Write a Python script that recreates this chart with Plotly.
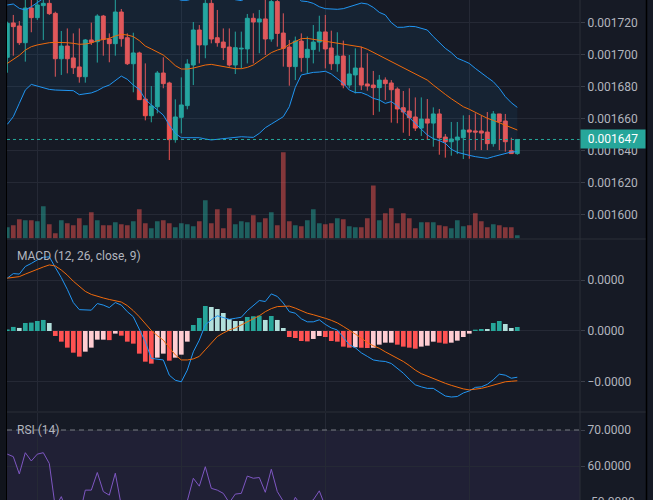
import numpy as np
import plotly.graph_objects as go

# ---------------- data (prices in millionths: 1698.2 -> 0.0016982) ----------------
PRICE_UNIT = 1e-6
OPEN = [1698.2, 1719.6, 1717.7, 1707.3, 1728.9, 1722.9, 1730.4, 1731.8, 1725.6, 1697.3,
        1705.2, 1697.8, 1692.2, 1686.1, 1709.0, 1707.9, 1723.9, 1709.6, 1706.7, 1726.4,
        1710.4, 1694.2, 1700.9, 1672.2, 1661.8, 1667.4, 1688.4, 1682.2, 1646.9, 1660.8,
        1668.1, 1693.4, 1715.2, 1705.9, 1731.8, 1710.4, 1707.7, 1704.6, 1693.4, 1703.4,
        1703.4, 1722.5, 1720.2, 1722.1, 1709.6, 1732.9, 1713.3, 1704.6, 1692.4, 1708.3,
        1698.0, 1703.0, 1707.7, 1714.0, 1704.0, 1694.2, 1699.0, 1680.9, 1687.2, 1691.5,
        1681.6, 1680.9, 1679.3, 1684.0, 1682.2, 1678.4, 1666.8, 1664.7, 1661.0, 1654.1,
        1659.7, 1657.2, 1662.9, 1648.5, 1645.6, 1646.7, 1648.1, 1652.9, 1652.3, 1652.3,
        1651.6, 1644.4, 1662.9, 1658.5, 1640.0, 1638.2]
HIGH = [1720.4, 1724.6, 1720.8, 1736.0, 1734.9, 1734.9, 1736.0, 1734.9, 1726.6, 1714.6,
        1716.2, 1713.1, 1716.2, 1709.6, 1719.8, 1725.0, 1724.6, 1713.1, 1734.9, 1728.3,
        1713.1, 1713.5, 1701.7, 1694.4, 1680.3, 1689.7, 1698.2, 1683.0, 1672.0, 1685.7,
        1697.0, 1720.2, 1718.3, 1734.9, 1734.9, 1727.7, 1716.2, 1716.2, 1714.2, 1714.2,
        1725.2, 1725.6, 1727.7, 1733.9, 1736.0, 1736.0, 1725.6, 1709.0, 1711.1, 1713.1,
        1711.1, 1718.3, 1724.1, 1724.6, 1714.8, 1713.8, 1708.6, 1699.6, 1703.8, 1704.8,
        1700.7, 1689.7, 1687.2, 1685.7, 1684.0, 1679.5, 1677.2, 1678.9, 1673.2, 1673.2,
        1672.2, 1667.0, 1666.0, 1650.4, 1657.9, 1657.9, 1662.0, 1662.2, 1663.3, 1661.6,
        1664.1, 1664.7, 1662.9, 1662.9, 1648.1, 1647.0]
LOW = [1688.6, 1699.2, 1705.9, 1695.5, 1713.8, 1721.4, 1709.0, 1724.6, 1686.1, 1687.2,
       1688.2, 1687.8, 1682.4, 1682.4, 1705.9, 1694.9, 1699.2, 1695.1, 1699.2, 1704.8,
       1693.4, 1676.4, 1671.6, 1658.9, 1657.7, 1663.3, 1678.9, 1634.2, 1645.0, 1650.8,
       1665.8, 1680.9, 1694.4, 1697.6, 1706.9, 1704.8, 1696.5, 1692.4, 1687.8, 1691.3,
       1694.4, 1694.4, 1700.7, 1699.6, 1707.9, 1704.8, 1692.4, 1680.5, 1684.0, 1689.2,
       1688.2, 1694.4, 1701.7, 1691.3, 1690.3, 1689.2, 1678.9, 1678.9, 1675.7, 1677.8,
       1677.4, 1662.2, 1664.3, 1671.6, 1657.5, 1657.1, 1651.2, 1649.2, 1652.3, 1649.2,
       1646.7, 1642.5, 1637.5, 1635.7, 1636.9, 1637.9, 1634.8, 1635.0, 1640.4, 1640.4,
       1640.4, 1642.5, 1640.4, 1639.4, 1638.2, 1637.5]
CLOSE = [1719.4, 1717.3, 1707.3, 1728.9, 1722.9, 1730.8, 1731.8, 1725.4, 1697.3, 1705.2,
         1697.3, 1691.7, 1686.1, 1709.0, 1707.5, 1723.9, 1709.4, 1706.7, 1726.4, 1709.8,
         1694.2, 1700.9, 1671.8, 1661.8, 1667.9, 1688.4, 1681.8, 1646.9, 1661.0, 1668.5,
         1694.0, 1715.2, 1705.9, 1731.8, 1709.6, 1707.3, 1704.2, 1693.4, 1704.2, 1703.8,
         1722.5, 1720.2, 1722.1, 1709.6, 1732.9, 1713.1, 1703.8, 1692.4, 1708.3, 1698.0,
         1703.2, 1707.7, 1714.0, 1703.4, 1694.2, 1699.0, 1680.9, 1687.8, 1691.5, 1680.9,
         1680.3, 1679.3, 1684.0, 1681.8, 1678.0, 1666.0, 1664.1, 1660.6, 1654.1, 1659.7,
         1657.2, 1662.9, 1648.1, 1645.6, 1647.3, 1648.5, 1652.9, 1651.6, 1651.6, 1651.0,
         1644.4, 1662.9, 1658.1, 1645.6, 1638.2, 1647.0]
VOLUME = [113, 133, 193, 183, 183, 173, 323, 143, 53, 183,
          153, 133, 203, 133, 263, 183, 133, 133, 163, 143,
          133, 173, 293, 153, 103, 173, 183, 153, 113, 153,
          143, 123, 173, 383, 153, 293, 103, 303, 143, 173,
          163, 233, 163, 203, 263, 133, 863, 173, 133, 123,
          183, 293, 153, 143, 153, 203, 193, 123, 113, 113,
          203, 530, 183, 253, 303, 153, 253, 203, 103, 163,
          163, 163, 133, 123, 103, 183, 123, 133, 253, 173,
          113, 143, 133, 113, 113, 33]
BB_UPPER = [1730.8, 1731.4, 1728.7, 1727.7, 1729.7, 1732.2, 1734.9, 1736.4, 1737.2, 1737.2,
            1737.0, 1736.4, 1737.6, 1737.6, 1738.3, 1739.7, 1738.9, 1739.1, 1738.9, 1738.5,
            1739.7, 1741.2, 1738.9, 1738.5, 1738.3, 1737.6, 1737.0, 1737.0, 1735.1, 1733.7,
            1733.7, 1734.9, 1737.0, 1739.5, 1741.0, 1739.3, 1737.6, 1736.0, 1734.1, 1733.5,
            1735.4, 1738.5, 1741.0, 1742.8, 1745.5, 1746.8, 1746.4, 1745.1, 1736.8, 1733.3,
            1732.9, 1731.8, 1729.7, 1728.5, 1728.1, 1728.1, 1728.5, 1729.7, 1731.0, 1732.0,
            1731.4, 1729.3, 1726.2, 1724.6, 1719.8, 1716.9, 1716.9, 1717.5, 1717.3, 1716.2,
            1715.2, 1711.1, 1707.3, 1703.8, 1701.1, 1697.6, 1696.1, 1694.4, 1691.3, 1688.2,
            1685.7, 1683.0, 1678.9, 1673.7, 1669.9, 1667.0]
BB_BASIS = [1694.4, 1696.9, 1699.4, 1702.7, 1704.8, 1705.9, 1706.7, 1707.3, 1707.5, 1707.5,
            1707.3, 1706.9, 1706.3, 1706.5, 1707.1, 1708.6, 1709.2, 1710.0, 1711.5, 1712.5,
            1712.1, 1711.1, 1708.6, 1705.2, 1703.4, 1701.5, 1699.6, 1696.5, 1693.0, 1690.9,
            1690.9, 1691.5, 1692.6, 1693.4, 1693.8, 1693.2, 1692.6, 1691.7, 1691.1, 1691.1,
            1691.9, 1693.4, 1695.9, 1698.6, 1701.1, 1702.7, 1703.8, 1706.3, 1708.2, 1709.8,
            1710.0, 1709.4, 1708.8, 1708.3, 1707.7, 1707.1, 1706.5, 1705.9, 1705.2, 1704.6,
            1703.2, 1701.3, 1699.2, 1697.1, 1695.1, 1693.2, 1691.3, 1689.5, 1687.6, 1685.7,
            1684.0, 1680.9, 1677.8, 1675.1, 1672.4, 1669.7, 1667.4, 1665.8, 1663.9, 1662.0,
            1660.2, 1658.9, 1657.5, 1656.0, 1654.3, 1652.9]
BB_LOWER = [1656.4, 1661.2, 1669.5, 1677.8, 1681.3, 1680.3, 1678.9, 1678.2, 1677.8, 1677.8,
            1677.6, 1677.4, 1674.9, 1675.3, 1676.0, 1677.4, 1679.5, 1680.9, 1684.0, 1686.5,
            1684.5, 1680.9, 1678.2, 1672.0, 1668.5, 1665.4, 1662.2, 1656.0, 1650.8, 1648.1,
            1648.1, 1648.1, 1648.1, 1647.3, 1646.7, 1647.1, 1647.5, 1647.5, 1648.1, 1648.7,
            1648.5, 1648.3, 1650.8, 1654.3, 1656.6, 1658.7, 1661.2, 1667.4, 1679.5, 1687.2,
            1688.2, 1688.8, 1689.0, 1689.5, 1687.8, 1685.1, 1682.0, 1677.8, 1676.2, 1676.2,
            1674.7, 1672.6, 1671.6, 1669.5, 1670.6, 1667.9, 1664.3, 1660.8, 1657.1, 1653.5,
            1649.8, 1647.5, 1646.3, 1644.6, 1640.9, 1639.0, 1637.9, 1637.1, 1636.3, 1635.7,
            1635.2, 1636.3, 1637.3, 1638.6, 1639.2, 1639.4]
MACD = [1.04, 1.13, 1.12, 1.27, 1.33, 1.40, 1.45, 1.46, 1.25, 1.05,
        0.82, 0.56, 0.42, 0.41, 0.41, 0.54, 0.51, 0.46, 0.56, 0.51,
        0.38, 0.28, 0.02, -0.21, -0.54, -0.55, -0.57, -0.87, -0.97, -1.00,
        -0.77, -0.41, -0.18, 0.12, 0.22, 0.30, 0.27, 0.23, 0.25, 0.27,
        0.40, 0.51, 0.60, 0.58, 0.73, 0.68, 0.55, 0.38, 0.35, 0.24,
        0.18, 0.18, 0.22, 0.13, 0.06, 0.02, -0.12, -0.27, -0.33, -0.43,
        -0.50, -0.57, -0.59, -0.60, -0.64, -0.74, -0.83, -0.95, -1.06, -1.10,
        -1.13, -1.13, -1.21, -1.28, -1.30, -1.29, -1.22, -1.18, -1.11, -1.10,
        -1.05, -0.96, -0.85, -0.87, -0.93, -0.91]
SIGNAL = [1.04, 1.05, 1.07, 1.12, 1.17, 1.22, 1.26, 1.30, 1.28, 1.20,
          1.10, 0.98, 0.87, 0.78, 0.72, 0.68, 0.65, 0.62, 0.60, 0.57,
          0.50, 0.40, 0.28, 0.14, 0.01, -0.09, -0.18, -0.33, -0.47, -0.57,
          -0.57, -0.55, -0.50, -0.37, -0.24, -0.11, -0.04, 0.02, 0.06, 0.12,
          0.17, 0.23, 0.30, 0.38, 0.44, 0.48, 0.49, 0.49, 0.45, 0.40,
          0.35, 0.32, 0.29, 0.25, 0.21, 0.16, 0.09, 0.02, -0.06, -0.14,
          -0.23, -0.29, -0.34, -0.41, -0.47, -0.54, -0.60, -0.68, -0.77, -0.84,
          -0.89, -0.93, -0.98, -1.03, -1.07, -1.11, -1.14, -1.16, -1.15, -1.13,
          -1.10, -1.07, -1.03, -1.00, -0.99, -0.98]
HIST = [0.03, 0.08, 0.06, 0.157, 0.165, 0.197, 0.217, 0.157, -0.098, -0.21,
        -0.328, -0.427, -0.505, -0.407, -0.328, -0.171, -0.171, -0.18, -0.052, -0.092,
        -0.21, -0.249, -0.446, -0.604, -0.643, -0.525, -0.446, -0.584, -0.525, -0.466,
        -0.21, 0.118, 0.256, 0.492, 0.472, 0.433, 0.354, 0.236, 0.197, 0.197,
        0.276, 0.29, 0.30, 0.217, 0.295, 0.217, 0.059, -0.118, -0.138, -0.197,
        -0.205, -0.157, -0.098, -0.118, -0.197, -0.21, -0.308, -0.328, -0.32, -0.33,
        -0.335, -0.33, -0.269, -0.23, -0.23, -0.269, -0.308, -0.328, -0.348, -0.308,
        -0.289, -0.21, -0.23, -0.249, -0.23, -0.19, -0.118, -0.052, 0.026, 0.039,
        0.039, 0.157, 0.197, 0.138, 0.059, 0.079]
RSI = [63.3, 62.6, 57.8, 63.7, 61.4, 63.3, 63.7, 60.7, 48.5, 51.5,
       47.0, 45.0, 46.0, 53.3, 53.3, 58.2, 52.9, 51.9, 58.0, 49.0,
       46.0, 47.5, 40.0, 36.0, 39.5, 47.0, 44.0, 35.0, 41.0, 45.5,
       50.3, 56.6, 54.4, 59.8, 53.8, 53.3, 52.4, 49.8, 52.2, 52.4,
       57.2, 56.6, 56.8, 52.7, 59.1, 52.9, 50.4, 47.5, 51.3, 49.0,
       49.8, 50.6, 53.1, 48.5, 44.5, 46.5, 40.5, 43.0, 45.0, 41.5,
       41.0, 40.5, 43.0, 42.0, 40.5, 37.5, 37.0, 36.0, 34.5, 37.5,
       36.5, 40.0, 34.5, 34.0, 35.0, 36.0, 39.0, 38.5, 38.5, 38.0,
       35.5, 45.0, 42.0, 38.0, 35.0, 41.5]
PRICE_TICKS = [0.00160, 0.00162, 0.00164, 0.00166, 0.00168, 0.00170, 0.00172]
MACD_TICKS = [-1e-6, 0.0, 1e-6]
MACD_TICK_TEXT = ["\u22120.0000", "0.0000", "0.0000"]
RSI_TICKS = [60, 70]
LAST_PRICE = 0.001647
X_GRID = [5, 29, 53, 77]

# ---------------- styling ----------------
BG = "#161a25"
GRID = "#252935"
BORDER = "#2a2e39"
TXT = "#b2b5be"
UP = "#26a69a"
DN = "#ef5350"
FONT = "Roboto"
W, H = 653, 500
L_PX, R_PX = 7, 580


def py(px):
    return 1 - px / H


def pxx(px):
    return (px - L_PX) / (R_PX - L_PX)


x = np.arange(len(CLOSE))
o = np.array(OPEN) * PRICE_UNIT
h = np.array(HIGH) * PRICE_UNIT
lo = np.array(LOW) * PRICE_UNIT
c = np.array(CLOSE) * PRICE_UNIT
up = np.array(BB_UPPER) * PRICE_UNIT
mid = np.array(BB_BASIS) * PRICE_UNIT
dn = np.array(BB_LOWER) * PRICE_UNIT
macd = np.array(MACD) * 1e-6
sig = np.array(SIGNAL) * 1e-6
hist = np.array(HIST) * 1e-6

vol_colors = ["rgba(38,166,154,0.5)" if cc >= oo else "rgba(239,83,80,0.5)" for oo, cc in zip(OPEN, CLOSE)]
hist_colors = []
prev = None
for v in HIST:
    if v >= 0:
        col = "#26a69a" if (prev is None or v > prev) else "#b2dfdb"
    else:
        col = "#ff5252" if (prev is not None and v < prev) else "#ffcdd2"
    hist_colors.append(col)
    prev = v

fig = go.Figure()
# volume (base axis y, drawn below price)
fig.add_trace(go.Bar(x=x, y=VOLUME, marker=dict(color=vol_colors, line=dict(width=0)),
                     xaxis="x", yaxis="y", hoverinfo="skip"))
# Bollinger fill
fig.add_trace(go.Scatter(x=x, y=up, mode="lines", line=dict(width=0), xaxis="x", yaxis="y2", hoverinfo="skip"))
fig.add_trace(go.Scatter(x=x, y=dn, mode="lines", line=dict(width=0), fill="tonexty",
                         fillcolor="rgba(33,150,243,0.07)", xaxis="x", yaxis="y2", hoverinfo="skip"))
# candles
fig.add_trace(go.Candlestick(x=x, open=o, high=h, low=lo, close=c, xaxis="x", yaxis="y2",
                             increasing=dict(line=dict(color=UP, width=1), fillcolor=UP),
                             decreasing=dict(line=dict(color=DN, width=1), fillcolor=DN),
                             whiskerwidth=0))
# Bollinger lines
fig.add_trace(go.Scatter(x=x, y=mid, mode="lines", line=dict(color="#f06a0c", width=1), xaxis="x", yaxis="y2"))
fig.add_trace(go.Scatter(x=x, y=up, mode="lines", line=dict(color="#2196f3", width=1), xaxis="x", yaxis="y2"))
fig.add_trace(go.Scatter(x=x, y=dn, mode="lines", line=dict(color="#2196f3", width=1), xaxis="x", yaxis="y2"))
# MACD
fig.add_trace(go.Bar(x=x, y=hist, marker=dict(color=hist_colors, line=dict(width=0)), xaxis="x2", yaxis="y3"))
fig.add_trace(go.Scatter(x=x, y=macd, mode="lines", line=dict(color="#2196f3", width=1), xaxis="x2", yaxis="y3"))
fig.add_trace(go.Scatter(x=x, y=sig, mode="lines", line=dict(color="#f06a0c", width=1), xaxis="x2", yaxis="y3"))
# RSI
fig.add_trace(go.Scatter(x=x, y=RSI, mode="lines", line=dict(color="#7e57c2", width=1), xaxis="x3", yaxis="y4"))

xr = [-0.05, 95.45]
xcommon = dict(range=xr, showticklabels=False, ticks="", tickvals=X_GRID, showgrid=True,
               gridcolor=GRID, gridwidth=1, zeroline=False, showline=False, rangeslider=dict(visible=False),
               domain=[0, 1])
ycommon = dict(side="right", showgrid=True, gridcolor=GRID, zeroline=False, showline=False,
               ticks="outside", ticklen=4, tickcolor="#3b3f4a",
               tickfont=dict(family=FONT, size=12, color=TXT))

fig.update_layout(
    width=W, height=H, margin=dict(l=L_PX, r=W - R_PX, t=0, b=0),
    paper_bgcolor=BG, plot_bgcolor=BG, showlegend=False, hovermode=False,
    bargap=0.22, boxgap=0.35, boxgroupgap=0.0,
    xaxis=dict(anchor="y", **xcommon),
    xaxis2=dict(anchor="y3", matches="x", **xcommon),
    xaxis3=dict(anchor="y4", matches="x", **xcommon),
    yaxis=dict(domain=[py(238.5), 1], range=[0, 2385], visible=False, showgrid=False),
    yaxis2=dict(overlaying="y", range=[1585.3e-6, 1733.9e-6], tickvals=PRICE_TICKS,
                tickformat=".6f", **ycommon),
    yaxis3=dict(domain=[py(411), py(240)], range=[-1.575e-6, 1.791e-6], tickvals=MACD_TICKS,
                ticktext=MACD_TICK_TEXT, anchor="x2", **ycommon),
    yaxis4=dict(domain=[0, py(412.5)], range=[50.56, 74.86], tickvals=RSI_TICKS,
                tickformat=".4f", anchor="x3", **ycommon),
)

shapes = [
    # RSI band + 70 level
    dict(type="rect", xref="paper", yref="y4", x0=0, x1=1, y0=30, y1=70,
         fillcolor="rgba(126,87,194,0.1)", line=dict(width=0), layer="below"),
    dict(type="line", xref="paper", yref="y4", x0=0, x1=1, y0=70, y1=70,
         line=dict(color="#787b86", width=1, dash="5px,4px")),
    # last price line
    dict(type="line", xref="paper", yref="y2", x0=0, x1=1, y0=LAST_PRICE, y1=LAST_PRICE,
         line=dict(color=UP, width=1, dash="dot")),
    # pane separators
    dict(type="line", xref="paper", yref="paper", x0=0, x1=pxx(646.5), y0=py(239), y1=py(239),
         line=dict(color=BORDER, width=1)),
    dict(type="line", xref="paper", yref="paper", x0=0, x1=pxx(646.5), y0=py(412), y1=py(412),
         line=dict(color=BORDER, width=1)),
    # price scale border
    dict(type="line", xref="paper", yref="paper", x0=1, x1=1, y0=0, y1=1,
         line=dict(color=BORDER, width=1)),
    # left strip and outer borders
    dict(type="rect", xref="paper", yref="paper", x0=pxx(0), x1=pxx(6), y0=0, y1=1,
         fillcolor="#11141c", line=dict(width=0)),
    dict(type="line", xref="paper", yref="paper", x0=pxx(6.5), x1=pxx(6.5), y0=0, y1=1,
         line=dict(color="#000000", width=1)),
    dict(type="line", xref="paper", yref="paper", x0=pxx(646.5), x1=pxx(646.5), y0=0, y1=1,
         line=dict(color="#000000", width=1.5)),
]
fig.update_layout(shapes=shapes)

annotations = [
    dict(xref="paper", yref="y2", x=1, y=LAST_PRICE, xanchor="left", yanchor="middle",
         text="0.001647", showarrow=False, bgcolor=UP, width=64, height=18, borderpad=0,
         font=dict(family=FONT, size=12, color="#ffffff")),
    dict(xref="paper", yref="paper", x=pxx(15), y=py(256), xanchor="left", yanchor="middle",
         text="MACD (12, 26, close, 9)", showarrow=False, font=dict(family=FONT, size=12, color=TXT)),
    dict(xref="paper", yref="paper", x=pxx(15), y=py(430), xanchor="left", yanchor="middle",
         text="RSI (14)", showarrow=False, font=dict(family=FONT, size=12, color=TXT)),
    dict(xref="paper", yref="paper", x=pxx(589), y=py(502), xanchor="left", yanchor="middle",
         text="50.0000", showarrow=False, font=dict(family=FONT, size=12, color=TXT)),
]
fig.update_layout(annotations=annotations)

fig.write_html(
    "out.html",
    config={"displayModeBar": False, "staticPlot": True},
    post_script="document.body.style.margin='0px';document.body.style.padding='0px';"
                "document.documentElement.style.overflow='hidden';",
)
